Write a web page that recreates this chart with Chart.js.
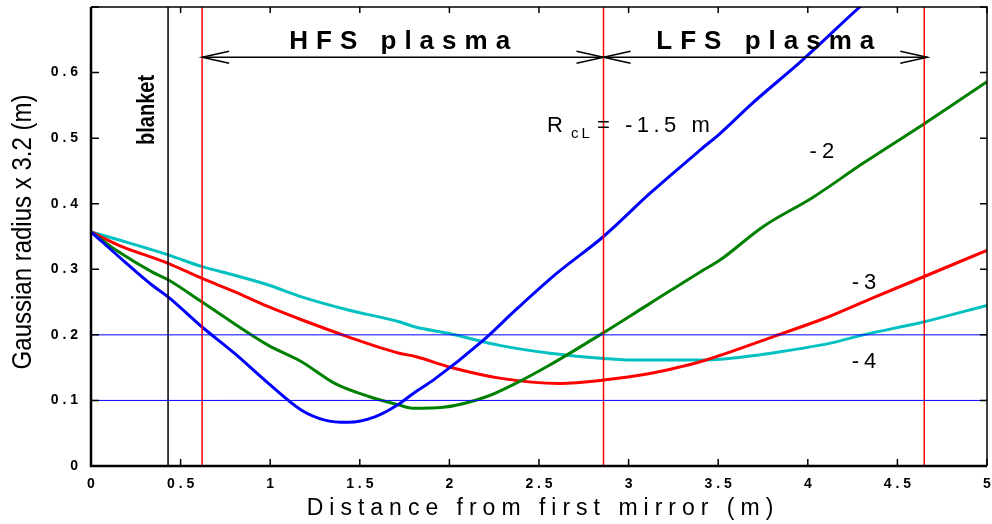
<!DOCTYPE html>
<html>
<head>
<meta charset="utf-8">
<script src="https://cdn.jsdelivr.net/npm/chart.js@4.4.1/dist/chart.umd.min.js"></script>
<style>
  html, body { margin: 0; padding: 0; background: #fff; }
  canvas { display: block; }
</style>
</head>
<body>
<canvas id="gaussChart" width="992" height="524"></canvas>
<script>
// distance from first mirror (m) / gaussian radius x 3.2 (m), one pair per R_cL
const dist15 = [0, 0.19, 0.34, 0.43, 0.62, 0.80, 0.99, 1.175, 1.305, 1.435, 1.584, 1.71, 1.81, 1.91, 2.19, 2.37, 2.60, 2.86, 3.12, 3.40, 3.51, 3.69, 3.97, 4.29, 4.5];
const rad15  = [0.357, 0.311, 0.276, 0.258, 0.212, 0.172, 0.126, 0.085, 0.070, 0.0666, 0.075, 0.093, 0.113, 0.131, 0.192, 0.238, 0.294, 0.350, 0.416, 0.482, 0.507, 0.553, 0.619, 0.700, 0.75];

const dist2 = [0, 0.152, 0.34, 0.43, 0.62, 0.80, 0.99, 1.175, 1.36, 1.55, 1.72, 1.80, 1.965, 2.21, 2.37, 2.56, 2.84, 3.12, 3.40, 3.51, 3.75, 4.03, 4.31, 4.65, 5.0];
const rad2  = [0.357, 0.327, 0.296, 0.284, 0.250, 0.217, 0.184, 0.159, 0.126, 0.106, 0.093, 0.088, 0.0895, 0.106, 0.126, 0.154, 0.200, 0.248, 0.296, 0.314, 0.365, 0.410, 0.462, 0.522, 0.586];

const dist3 = [0, 0.152, 0.43, 0.62, 0.80, 0.99, 1.175, 1.435, 1.72, 1.81, 2.0, 2.28, 2.615, 2.86, 3.12, 3.285, 3.40, 3.60, 3.805, 4.12, 4.36, 4.65, 5.0];
const rad3  = [0.357, 0.337, 0.309, 0.286, 0.266, 0.243, 0.223, 0.197, 0.172, 0.167, 0.151, 0.134, 0.126, 0.131, 0.141, 0.151, 0.159, 0.177, 0.197, 0.228, 0.256, 0.289, 0.329];

const dist4 = [0, 0.152, 0.43, 0.62, 0.80, 0.99, 1.175, 1.435, 1.72, 1.81, 2.0, 2.28, 2.56, 2.86, 3.02, 3.40, 3.56, 3.84, 4.12, 4.31, 4.65, 5.0];
const rad4  = [0.357, 0.345, 0.322, 0.304, 0.291, 0.276, 0.258, 0.238, 0.220, 0.212, 0.202, 0.184, 0.172, 0.164, 0.1615, 0.1615, 0.164, 0.174, 0.187, 0.200, 0.220, 0.245];

const rclValues = ['-1.5', '-2', '-3', '-4'];
const curveColors = ['#0000ff', '#008000', '#ff0000', '#00c0c0'];

// plasma boundaries and blanket position (m), reference levels (m)
const plasmaEdges = [0.62, 2.86, 4.65];
const blanketPos = 0.43;
const refLevels = [0.1, 0.2];

const xTitle = 'Distance from first mirror (m)';
const yTitle = 'Gaussian radius x 3.2 (m)';

const FONT = '"Liberation Sans", Arial, sans-serif';

function pts(xs, ys) {
  return xs.map((x, i) => ({ x: x, y: ys[i] }));
}

// "0.5" -> "0 . 5" like the original plot
function spaced(v) {
  const r = Math.round(v * 10) / 10;
  return String(r).split('').join(' ');
}

// keep chart area fixed, no extra room for edge labels
function fixScale(size) {
  return s => {
    if (s.isHorizontal()) s.height = size; else s.width = size;
    s.paddingLeft = 0; s.paddingRight = 0; s.paddingTop = 0; s.paddingBottom = 0;
  };
}

const datasets = [];

refLevels.forEach(lv => {
  datasets.push({
    data: [{ x: 0, y: lv }, { x: 5, y: lv }],
    borderColor: '#0000ff', borderWidth: 1, pointRadius: 0
  });
});

plasmaEdges.forEach(px => {
  datasets.push({
    data: [{ x: px, y: 0 }, { x: px, y: 0.7 }],
    borderColor: '#ff0000', borderWidth: 1.5, pointRadius: 0
  });
});

datasets.push({
  data: [{ x: blanketPos, y: 0 }, { x: blanketPos, y: 0.7 }],
  borderColor: '#000000', borderWidth: 1.5, pointRadius: 0
});

const curves = [[dist15, rad15], [dist2, rad2], [dist3, rad3], [dist4, rad4]];
curves.forEach((c, i) => {
  datasets.push({
    label: 'R_cL = ' + rclValues[i] + ' m',
    data: pts(c[0], c[1]),
    borderColor: curveColors[i],
    borderWidth: 3,
    pointRadius: 0,
    cubicInterpolationMode: 'monotone'
  });
});

function spacedText(ctx, txt, x, y, spacing) {
  ctx.letterSpacing = spacing + 'px';
  ctx.fillText(txt, x, y);
  ctx.letterSpacing = '0px';
}

function arrowHead(ctx, x, y, dir) {
  ctx.beginPath();
  ctx.moveTo(x + dir * 27, y - 6);
  ctx.lineTo(x, y);
  ctx.lineTo(x + dir * 27, y + 6);
  ctx.stroke();
}

const decorPlugin = {
  id: 'decor',
  afterDatasetsDraw(chart) {
    const ctx = chart.ctx;
    const xs = chart.scales.x, ys = chart.scales.y;
    const a = chart.chartArea;
    ctx.save();

    // frame
    ctx.strokeStyle = '#000';
    ctx.lineWidth = 1.5;
    ctx.beginPath();
    ctx.moveTo(a.left, a.top); ctx.lineTo(a.right, a.top); ctx.lineTo(a.right, a.bottom);
    ctx.stroke();
    ctx.lineWidth = 2.5;
    ctx.beginPath();
    ctx.moveTo(a.left, a.top); ctx.lineTo(a.left, a.bottom); ctx.lineTo(a.right, a.bottom);
    ctx.stroke();

    // inward ticks
    ctx.lineWidth = 1.5;
    ctx.beginPath();
    xs.ticks.forEach(t => {
      const p = xs.getPixelForValue(t.value);
      ctx.moveTo(p, a.bottom); ctx.lineTo(p, a.bottom - 7);
      ctx.moveTo(p, a.top); ctx.lineTo(p, a.top + 6);
    });
    ys.ticks.forEach(t => {
      const p = ys.getPixelForValue(t.value);
      ctx.moveTo(a.left, p); ctx.lineTo(a.left + 8, p);
      ctx.moveTo(a.right, p); ctx.lineTo(a.right - 7, p);
    });
    ctx.stroke();

    // plasma arrows
    const ay = ys.getPixelForValue(0.6235);
    const x0 = xs.getPixelForValue(plasmaEdges[0]);
    const x1 = xs.getPixelForValue(plasmaEdges[1]);
    const x2 = xs.getPixelForValue(plasmaEdges[2]) + 3;
    ctx.lineWidth = 1.5;
    ctx.beginPath();
    ctx.moveTo(x0, ay); ctx.lineTo(x2, ay);
    ctx.stroke();
    arrowHead(ctx, x0, ay, 1);
    arrowHead(ctx, x1, ay, -1);
    arrowHead(ctx, x1, ay, 1);
    arrowHead(ctx, x2, ay, -1);

    ctx.fillStyle = '#000';
    ctx.textAlign = 'center';
    ctx.textBaseline = 'alphabetic';
    ctx.font = 'bold 26px ' + FONT;
    spacedText(ctx, 'HFS plasma', xs.getPixelForValue(1.745), ys.getPixelForValue(0.636), 8);
    spacedText(ctx, 'LFS plasma', xs.getPixelForValue(3.785), ys.getPixelForValue(0.636), 8);

    // blanket label (source image is a bit stretched sideways)
    ctx.save();
    ctx.translate(xs.getPixelForValue(0.318), ys.getPixelForValue(0.543));
    ctx.rotate(-Math.PI / 2);
    ctx.scale(1, 1.15);
    ctx.font = 'bold 20px ' + FONT;
    ctx.textBaseline = 'middle';
    ctx.fillText('blanket', 0, 0);
    ctx.restore();

    // R_cL labels
    ctx.textAlign = 'left';
    ctx.font = '22px ' + FONT;
    const rx = xs.getPixelForValue(2.544), ry = ys.getPixelForValue(0.509);
    ctx.fillText('R', rx, ry);
    ctx.font = '15px ' + FONT;
    spacedText(ctx, 'cL', rx + 24, ry + 6, 3);
    ctx.font = '22px ' + FONT;
    spacedText(ctx, '=', rx + 50, ry, 0);
    spacedText(ctx, rclValues[0] + ' m', rx + 78, ry, 4.5);

    ctx.textBaseline = 'middle';
    spacedText(ctx, rclValues[1], xs.getPixelForValue(4.01), ys.getPixelForValue(0.479), 5);
    spacedText(ctx, rclValues[2], xs.getPixelForValue(4.245), ys.getPixelForValue(0.279), 5);
    spacedText(ctx, rclValues[3], xs.getPixelForValue(4.245), ys.getPixelForValue(0.159), 5);

    // axis titles
    ctx.textAlign = 'center';
    ctx.textBaseline = 'alphabetic';
    ctx.font = '23px ' + FONT;
    spacedText(ctx, xTitle, 543, 515, 6);

    ctx.save();
    ctx.translate(31, 232);
    ctx.rotate(-Math.PI / 2);
    ctx.scale(1, 1.17);
    ctx.font = '24px ' + FONT;
    ctx.fillText(yTitle, 0, 0);
    ctx.restore();

    ctx.restore();
  }
};

new Chart(document.getElementById('gaussChart'), {
  type: 'line',
  data: { datasets: datasets },
  options: {
    responsive: false,
    animation: false,
    devicePixelRatio: 1,
    layout: { padding: { top: 7, right: 5, left: 0, bottom: 0 } },
    plugins: {
      legend: { display: false },
      tooltip: { enabled: false }
    },
    scales: {
      x: {
        type: 'linear',
        min: 0,
        max: 5,
        grid: { display: false, drawTicks: false },
        border: { display: false },
        ticks: {
          stepSize: 0.5,
          padding: 10,
          maxRotation: 0,
          color: '#000',
          font: { family: FONT, size: 14, weight: 'bold' },
          callback: v => spaced(v)
        },
        afterFit: fixScale(58)
      },
      y: {
        type: 'linear',
        min: 0,
        max: 0.7,
        grid: { display: false, drawTicks: false },
        border: { display: false },
        ticks: {
          stepSize: 0.1,
          padding: 13,
          color: '#000',
          font: { family: FONT, size: 14, weight: 'bold' },
          callback: v => (Math.round(v * 10) === 7 ? '' : spaced(v))
        },
        afterFit: fixScale(91)
      }
    }
  },
  plugins: [decorPlugin]
});
</script>
</body>
</html>
